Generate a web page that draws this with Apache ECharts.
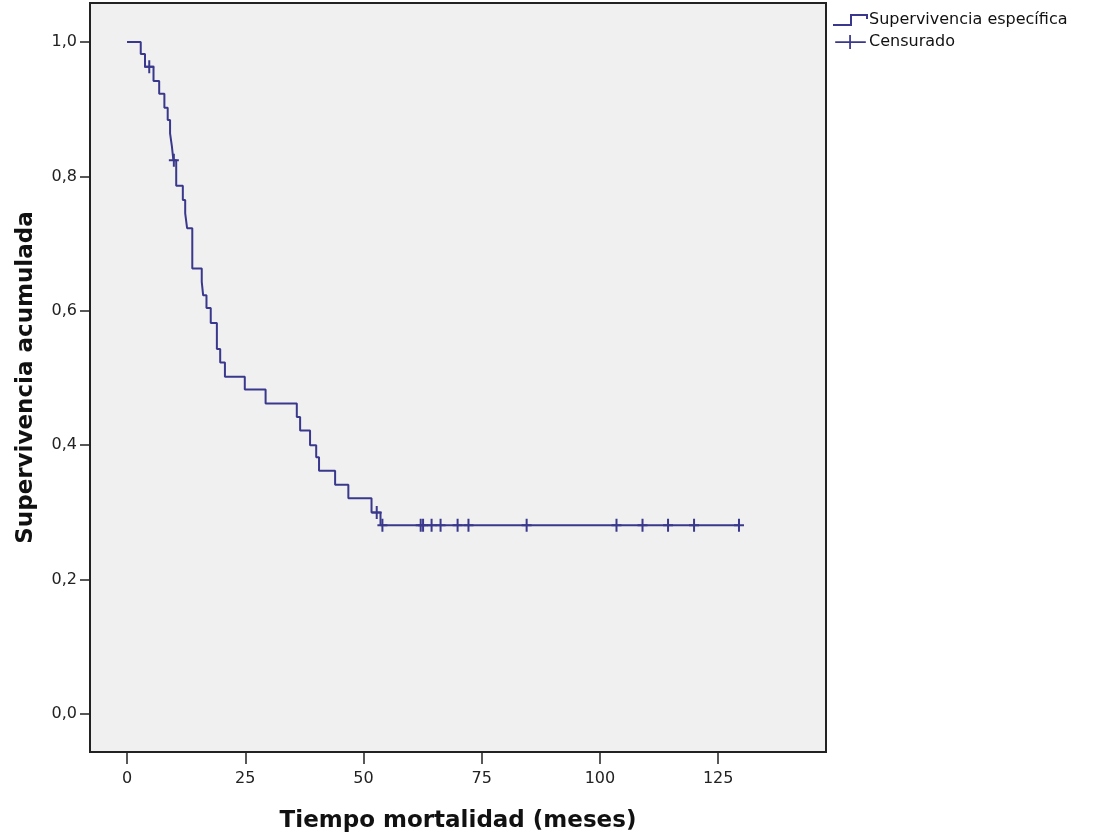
<!DOCTYPE html>
<html>
<head>
<meta charset="utf-8">
<script src="https://cdn.jsdelivr.net/npm/echarts@6/dist/echarts.min.js"></script>
<style>
  html, body { margin: 0; padding: 0; background: #fff; }
  #main { width: 1097px; height: 836px; }
</style>
</head>
<body>
<div id="main"></div>
<script>
// Kaplan-Meier steps: time (months) where survival drops to the matching value
var survTime  = [0, 2.9, 3.8, 5.6, 6.8, 7.9, 8.6, 9.1, 9.5, 9.8, 10.4, 11.8, 12.3, 12.7, 13.8, 15.8, 16.1, 16.8, 17.7,
                 19.0, 19.7, 20.7, 24.9, 29.3, 35.9, 36.6, 38.7, 40.0, 40.6, 44.0, 46.8, 51.7, 53.6, 129.4];
var survValue = [1.0, 0.982, 0.963, 0.942, 0.923, 0.902, 0.884, 0.864, 0.844, 0.824, 0.786, 0.765, 0.745, 0.723, 0.663,
                 0.643, 0.623, 0.604, 0.582, 0.543, 0.523, 0.502, 0.483, 0.462, 0.442, 0.422, 0.400, 0.382, 0.362,
                 0.341, 0.321, 0.300, 0.281, 0.281];

// censored cases
var censorTime  = [4.7, 9.9, 52.8, 54.0, 62.1, 62.6, 64.4, 66.3, 69.9, 72.2, 84.5, 103.5, 109.0, 114.4, 119.9, 129.4];
var censorValue = [0.963, 0.824, 0.300, 0.281, 0.281, 0.281, 0.281, 0.281, 0.281, 0.281, 0.281, 0.281, 0.281, 0.281, 0.281, 0.281];

var xTicks = [0, 25, 50, 75, 100, 125];
var yTicks = [0, 0.2, 0.4, 0.6, 0.8, 1.0];

var lineColor = '#3a388c';

var survData = survTime.map(function (t, i) { return [t, survValue[i]]; });
var censorData = censorTime.map(function (t, i) { return [t, censorValue[i]]; });

var stepIcon = 'path://M0,10H17V0H35V5H33V2H19V12H0Z';
var crossIcon = 'path://M0,7H16V0H18V7H35V9H18V16H16V9H0Z';
var plusSymbol = 'path://M4,0H6V5.5H10V7.5H6V13H4V7.5H0V5.5H4Z';

var myChart = echarts.init(document.getElementById('main'));
var option = {
    backgroundColor: '#fff',
    animation: false,
    grid: {
        left: 90, top: 3, right: 271, bottom: 84,
        outerBoundsMode: 'none',
        containLabel: false,
        show: true,
        backgroundColor: '#f0f0f0',
        borderColor: '#222',
        borderWidth: 2
    },
    legend: {
        orient: 'vertical',
        left: 828,
        top: 7,
        itemWidth: 35,
        itemHeight: 14,
        itemGap: 6,
        textStyle: { fontFamily: 'DejaVu Sans', fontSize: 16, color: '#111', padding: [0, 0, 0, -4] },
        data: [
            { name: 'Supervivencia específica', icon: stepIcon },
            { name: 'Censurado', icon: crossIcon }
        ]
    },
    xAxis: {
        type: 'value',
        min: -7.83,
        max: 147.8,
        name: 'Tiempo mortalidad (meses)',
        nameLocation: 'middle',
        nameGap: 58,
        nameTextStyle: { fontFamily: 'DejaVu Sans', fontWeight: 'bold', fontSize: 23, color: '#111' },
        axisLine: { show: false, onZero: false },
        splitLine: { show: false },
        axisTick: { show: true, customValues: xTicks, length: 12, lineStyle: { color: '#222', width: 1.5 } },
        axisLabel: {
            customValues: xTicks, margin: 19,
            fontFamily: 'DejaVu Sans', fontSize: 16, color: '#222'
        }
    },
    yAxis: {
        type: 'value',
        min: -0.0565,
        max: 1.058,
        name: 'Supervivencia acumulada',
        nameLocation: 'middle',
        nameRotate: 90,
        nameGap: 52,
        nameTextStyle: { fontFamily: 'DejaVu Sans', fontWeight: 'bold', fontSize: 23, color: '#111' },
        axisLine: { show: false, onZero: false },
        splitLine: { show: false },
        axisTick: { show: true, customValues: yTicks, length: 10, lineStyle: { color: '#222', width: 1.5 } },
        axisLabel: {
            customValues: yTicks, margin: 13,
            fontFamily: 'DejaVu Sans', fontSize: 16, color: '#222',
            formatter: function (v) { return v.toFixed(1).replace('.', ','); }
        }
    },
    series: [
        {
            name: 'Supervivencia específica',
            type: 'line',
            step: 'end',
            data: survData,
            showSymbol: false,
            symbol: 'none',
            lineStyle: { color: lineColor, width: 2 },
            itemStyle: { color: lineColor },
            z: 3
        },
        {
            name: 'Censurado',
            type: 'scatter',
            data: censorData,
            symbol: plusSymbol,
            symbolKeepAspect: false,
            symbolSize: [10, 13],
            itemStyle: { color: lineColor, opacity: 1 },
            z: 4
        }
    ]
};
myChart.setOption(option);
</script>
</body>
</html>
